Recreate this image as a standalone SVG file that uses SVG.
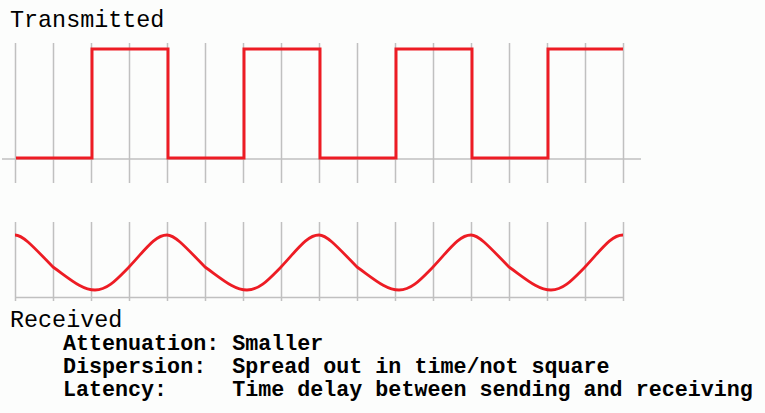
<svg xmlns="http://www.w3.org/2000/svg" width="765" height="413" viewBox="0 0 765 413">
<style>
.grid{stroke:#c0c0c0;stroke-width:1.5;fill:none}
.sig{stroke:#ed1c24;stroke-width:3;fill:none;stroke-linejoin:miter}
.wave{stroke:#ed1c24;stroke-width:2.8;fill:none;stroke-linejoin:round}
.h{font-family:"Liberation Mono","Courier New",monospace;font-size:23.4px;fill:#000}
.d{font-family:"Liberation Mono","Courier New",monospace;font-size:21.7px;font-weight:bold;fill:#000;white-space:pre}
</style>
<rect width="765" height="413" fill="#fcfdfc"/>
<g id="transmitted-grid">
<path class="grid" d="M15.5,43V183M53.5,43V183M91.5,43V183M129.5,43V183M167.5,43V183M205.5,43V183M243.5,43V183M281.5,43V183M319.5,43V183M357.5,43V183M395.5,43V183M433.5,43V183M471.5,43V183M509.5,43V183M547.5,43V183M585.5,43V183M623.5,43V183M2,159H641"/>
</g>
<g id="received-grid">
<path class="grid" d="M15.5,222V301M53.5,222V301M91.5,222V301M129.5,222V301M167.5,222V301M205.5,222V301M243.5,222V301M281.5,222V301M319.5,222V301M357.5,222V301M395.5,222V301M433.5,222V301M471.5,222V301M509.5,222V301M547.5,222V301M585.5,222V301M623.5,222V301M15,297.5H623"/>
</g>
<g id="transmitted-signal">
<path class="sig" d="M16,158H92V49H168V158H244V49H320V158H396V49H472V158H548V49H623"/>
</g>
<g id="received-signal">
<path class="wave" d="M15,235c7,0 15,8 38,32c17,12 29,23 42,23c13,0 23,-12 34,-23c16,-17 26,-32 38,-32c7,0 15,8 38,32c17,12 29,23 42,23c13,0 23,-12 34,-23c16,-17 26,-32 38,-32c7,0 15,8 38,32c17,12 29,23 42,23c13,0 23,-12 34,-23c16,-17 26,-32 38,-32c7,0 15,8 38,32c17,12 29,23 42,23c13,0 23,-12 34,-23c16,-17 26,-32 38,-32"/>
</g>
<g id="labels">
<text class="h" x="10" y="27">Transmitted</text>
<text class="h" x="10" y="327">Received</text>
<text class="d" x="63" y="350">Attenuation: Smaller</text>
<text class="d" x="63" y="373">Dispersion:  Spread out in time/not square</text>
<text class="d" x="63" y="396">Latency:     Time delay between sending and receiving</text>
</g>
</svg>
